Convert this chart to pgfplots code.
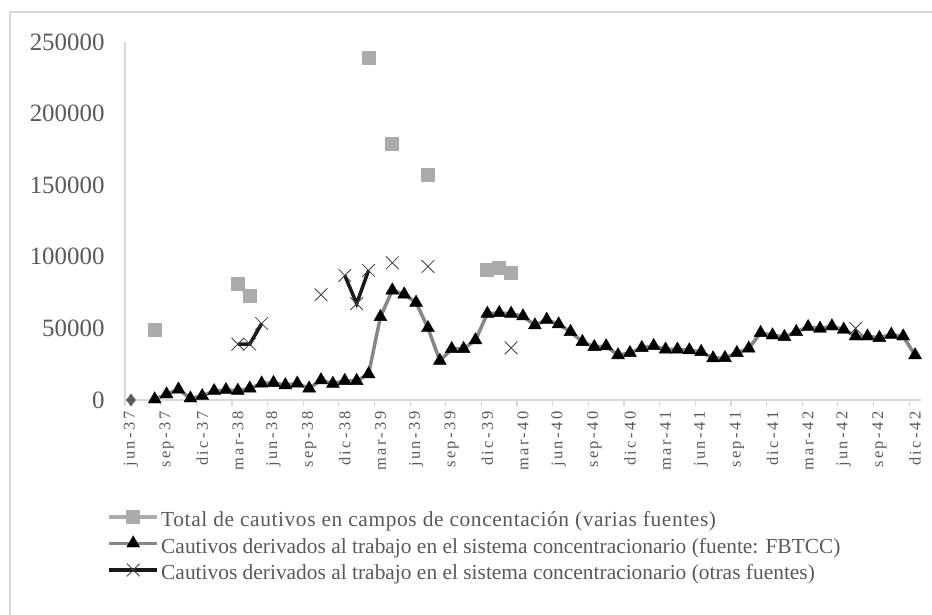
\documentclass[border=0pt]{standalone}
\usepackage{fontspec}
\setmainfont{Liberation Serif}
\newfontfamily\xlabfont[LetterSpace=15]{Liberation Serif}
\newfontfamily\wideserif[LetterSpace=2.8]{Liberation Serif}
\usepackage{pgfplots}
\pgfplotsset{compat=1.18}
\definecolor{txtgray}{HTML}{595959}
\definecolor{axgray}{HTML}{D9D9D9}
\definecolor{sqgray}{HTML}{ABABAB}
\definecolor{lngray}{HTML}{878787}
\definecolor{xgray}{HTML}{404040}

\begin{document}
\begin{tikzpicture}
\useasboundingbox (0,0) rectangle (932bp,615bp);
% chart frame (right and bottom edges lie outside the picture)
\draw[axgray, line width=1.2bp] (10bp,-5bp) rectangle (940bp,603bp);
\begin{axis}[
  at={(125bp,215bp)}, anchor=south west,
  scale only axis, width=796bp, height=358bp,
  xmin=-0.5, xmax=66.5, ymin=0, ymax=250000,
  clip=false, unbounded coords=jump,
  axis x line*=bottom, axis y line*=left,
  axis line style={-, axgray, line width=1.3bp},
  ytick={0,50000,...,250000}, scaled y ticks=false,
  ytick style={draw=none},
  yticklabel style={/pgf/number format/fixed, /pgf/number format/1000 sep={},
    /pgf/number format/assume math mode=true,
    font=\fontsize{25}{25}\selectfont, text=txtgray, anchor=east, xshift=-17bp},
  xtick={0,3,...,66},
  xticklabels={jun-37,sep-37,dic-37,mar-38,jun-38,sep-38,dic-38,mar-39,jun-39,sep-39,dic-39,mar-40,jun-40,sep-40,dic-40,mar-41,jun-41,sep-41,dic-41,mar-42,jun-42,sep-42,dic-42},
  major x tick style={draw=none},
  xticklabel style={yshift=-8bp, rotate=90, anchor=east, font=\xlabfont\fontsize{16.5}{16.5}\selectfont, text=txtgray},
  extra x ticks={-0.5,2.5,...,65.5},
  extra x tick labels={},
  extra x tick style={tick align=outside, major tick length=6bp,
    major x tick style={draw=axgray, line width=1.2bp}},
  legend style={at={(-0.0226,-0.2877)}, anchor=north west, draw=none, fill=none,
    inner sep=0pt, row sep=0pt, text=txtgray,
    font=\fontsize{21.5}{21.5}\selectfont,
    cells={inner sep=0pt, text height=21.25bp, text depth=8.25bp}},
  legend cell align=left,
  legend image code/.code={
    \draw[mark repeat=2, mark phase=2, #1] plot coordinates {(0bp,0bp) (24bp,0bp) (48bp,0bp)};
    \path (48bp,0bp);},
]
% Total de cautivos en campos (varias fuentes)
\addplot[color=sqgray, line width=4bp, mark=square*, mark size=6.5bp,
  mark options={fill=sqgray, draw=sqgray, line width=0pt}] coordinates {
  (2,49200) (3,nan) (9,81000) (10,72600) (11,nan) (20,238500) (21,nan)
  (22,178500) (23,nan) (25,157000) (26,nan) (30,90800) (31,92500) (32,88600)};
\addlegendentry{\wideserif Total de cautivos en campos de concentación (varias fuentes)}
% FBTCC
\addplot[color=lngray, line width=3.5bp, mark=triangle*, mark size=7.5bp,
  mark options={fill=black, draw=black, line width=0.4bp}] coordinates {
  (2,500) (3,4000) (4,7400) (5,1200) (6,2800) (7,6300) (8,7000) (9,6500)
  (10,8100) (11,11600) (12,12000) (13,10400) (14,11600) (15,8100) (16,13900)
  (17,11400) (18,13400) (19,13400) (20,18100) (21,58000) (22,76600) (23,73800)
  (24,68000) (25,50300) (26,27400) (27,35700) (28,35700) (29,41800) (30,60300)
  (31,60800) (32,60300) (33,58500) (34,52200) (35,56100) (36,52900) (37,47600)
  (38,40600) (39,37100) (40,37600) (41,31300) (42,32900) (43,36400) (44,37800)
  (45,35300) (46,35300) (47,34800) (48,33600) (49,29200) (50,29400) (51,32900)
  (52,36000) (53,46900) (54,45200) (55,44100) (56,47600) (57,51000) (58,49900)
  (59,51500) (60,49200) (61,44500) (62,44500) (63,43400) (64,45700) (65,44500)
  (66,31300)};
\addlegendentry{Cautivos derivados al trabajo en el sistema concentracionario (fuente: FBTCC)}
% otras fuentes
\addplot[color=black!90, line width=3.5bp, mark=x, mark size=9bp,
  mark options={draw=xgray, line width=0.8bp}] coordinates {
  (9,39000) (10,39000) (11,53400) (12,nan) (16,73500) (17,nan)
  (18,87000) (19,67300) (20,90500) (21,nan) (22,95800) (23,nan)
  (25,93300) (26,nan) (32,36400) (33,nan) (61,50000)};
\addlegendentry{Cautivos derivados al trabajo en el sistema concentracionario (otras fuentes)}
% first point
\addplot[forget plot, only marks, mark=diamond*, mark size=6bp,
  mark options={fill=txtgray, draw=txtgray}] coordinates {(0,0)};
\end{axis}
\end{tikzpicture}
\end{document}
